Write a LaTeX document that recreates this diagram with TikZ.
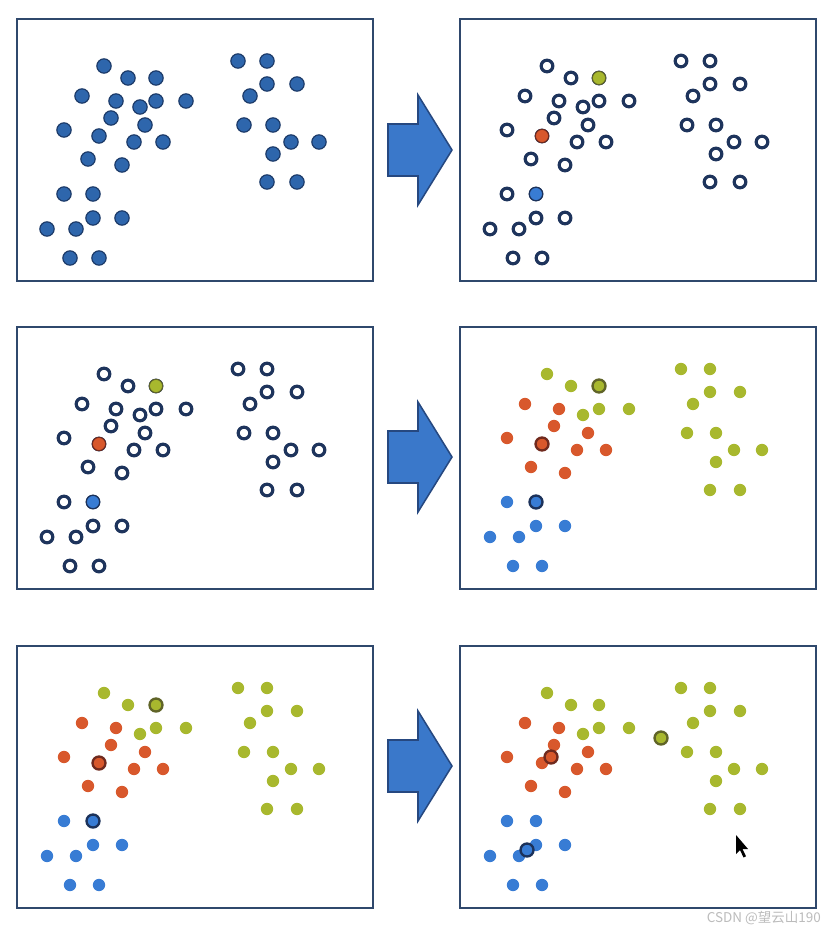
\documentclass[tikz,border=0pt]{standalone}
\usepackage{fontspec}
\newfontfamily\cjkfont{Noto Sans CJK SC}

\definecolor{framecol}{RGB}{47,72,108}
\definecolor{dotfill}{RGB}{46,102,172}
\definecolor{dotedge}{RGB}{28,58,104}
\definecolor{ringcol}{RGB}{30,52,92}
\definecolor{clg}{RGB}{168,184,46}
\definecolor{clr}{RGB}{216,88,44}
\definecolor{clb}{RGB}{56,124,212}
\definecolor{edgeg}{RGB}{96,100,40}
\definecolor{edger}{RGB}{112,42,30}
\definecolor{edgeb}{RGB}{28,50,90}
\definecolor{arrowfill}{RGB}{58,120,202}
\definecolor{arrowedge}{RGB}{38,72,128}
\definecolor{markgray}{RGB}{188,188,188}

% data points: x/y/cluster (g = green, r = red, b = blue)
\newcommand\datapoints{104/66/g, 128/78/g, 156/78/g, 140/107/g, 156/101/g, 186/101/g,
  238/61/g, 267/61/g, 267/84/g, 297/84/g, 250/96/g, 244/125/g,
  273/125/g, 291/142/g, 319/142/g, 273/154/g, 267/182/g, 297/182/g,
  82/96/r, 116/101/r, 111/118/r, 145/125/r, 64/130/r, 99/136/r,
  134/142/r, 163/142/r, 88/159/r, 122/165/r,
  64/194/b, 93/194/b, 93/218/b, 122/218/b, 47/229/b, 76/229/b,
  70/258/b, 99/258/b}
% cluster centres before and after the update
\newcommand\oldcentres{156/78/g, 99/136/r, 93/194/b}
\newcommand\newcentres{218/111/g, 108/130/r, 84/223/b}

\begin{document}
\begin{tikzpicture}[
  x=0.03cm, y=-0.03cm,
  frame/.style={draw=framecol, line width=2.2pt},
  rawdot/.style={circle, inner sep=0pt, minimum size=0.43cm, fill=dotfill, draw=dotedge, line width=1pt},
  ring/.style={circle, inner sep=0pt, minimum size=0.35cm, fill=white, draw=ringcol, line width=2.7pt},
  seed/.style={circle, inner sep=0pt, minimum size=0.40cm, line width=0.9pt},
  cdot/.style={circle, inner sep=0pt, minimum size=0.37cm},
  centre/.style={circle, inner sep=0pt, minimum size=0.39cm, line width=2pt},
  bigarrow/.style={fill=arrowfill, draw=arrowedge, line width=1.3pt, line join=miter}
]
  \useasboundingbox[fill=white] (0,0) rectangle (838,933);

  % panel 1: raw data
  \draw[frame] (17,19) rectangle (373,281);
  \foreach \x/\y/\c [count=\i] in \datapoints
    \node[rawdot] (a\i) at (\x,\y) {};

  % panel 2: three random seeds
  \begin{scope}[shift={(443,0)}]
    \draw[frame] (17,19) rectangle (373,281);
    \foreach \x/\y/\c [count=\i] in \datapoints
      \node[ring] (b\i) at (\x,\y) {};
    \foreach \x/\y/\c [count=\i] in \oldcentres
      \node[seed, fill=cl\c, draw=edge\c] (bs\i) at (\x,\y) {};
  \end{scope}

  % panel 3: same seeds
  \begin{scope}[shift={(0,308)}]
    \draw[frame] (17,19) rectangle (373,281);
    \foreach \x/\y/\c [count=\i] in \datapoints
      \node[ring] (c\i) at (\x,\y) {};
    \foreach \x/\y/\c [count=\i] in \oldcentres
      \node[seed, fill=cl\c, draw=edge\c] (cs\i) at (\x,\y) {};
  \end{scope}

  % panel 4: points assigned to nearest seed
  \begin{scope}[shift={(443,308)}]
    \draw[frame] (17,19) rectangle (373,281);
    \foreach \x/\y/\c [count=\i] in \datapoints
      \node[cdot, fill=cl\c] (d\i) at (\x,\y) {};
    \foreach \x/\y/\c [count=\i] in \oldcentres
      \node[centre, fill=cl\c, draw=edge\c] (ds\i) at (\x,\y) {};
  \end{scope}

  % panel 5: same assignment
  \begin{scope}[shift={(0,627)}]
    \draw[frame] (17,19) rectangle (373,281);
    \foreach \x/\y/\c [count=\i] in \datapoints
      \node[cdot, fill=cl\c] (e\i) at (\x,\y) {};
    \foreach \x/\y/\c [count=\i] in \oldcentres
      \node[centre, fill=cl\c, draw=edge\c] (es\i) at (\x,\y) {};
  \end{scope}

  % panel 6: centres moved to the cluster means
  \begin{scope}[shift={(443,627)}]
    \draw[frame] (17,19) rectangle (373,281);
    \foreach \x/\y/\c [count=\i] in \datapoints
      \node[cdot, fill=cl\c] (f\i) at (\x,\y) {};
    \foreach \x/\y/\c [count=\i] in \newcentres
      \node[centre, fill=cl\c, draw=edge\c] (fs\i) at (\x,\y) {};
    % mouse pointer
    \fill[black] (293,208) -- ++(0,19) -- ++(4,-4) -- ++(3.5,7.5) -- ++(2.5,-1.2)
      -- ++(-3.5,-7.3) -- ++(5.5,0) -- cycle;
  \end{scope}

  % block arrows between the columns
  \foreach \ay in {150,457,766}
    \draw[bigarrow] (388,\ay-26) -- (418,\ay-26) -- (418,\ay-55) -- (452,\ay)
      -- (418,\ay+55) -- (418,\ay+26) -- (388,\ay+26) -- cycle;

  \node[anchor=base east, inner sep=0pt, text=markgray, font=\cjkfont\fontsize{11.5}{12}\selectfont]
    (mark) at (821,922) {CSDN @望云山190};
\end{tikzpicture}
\end{document}
